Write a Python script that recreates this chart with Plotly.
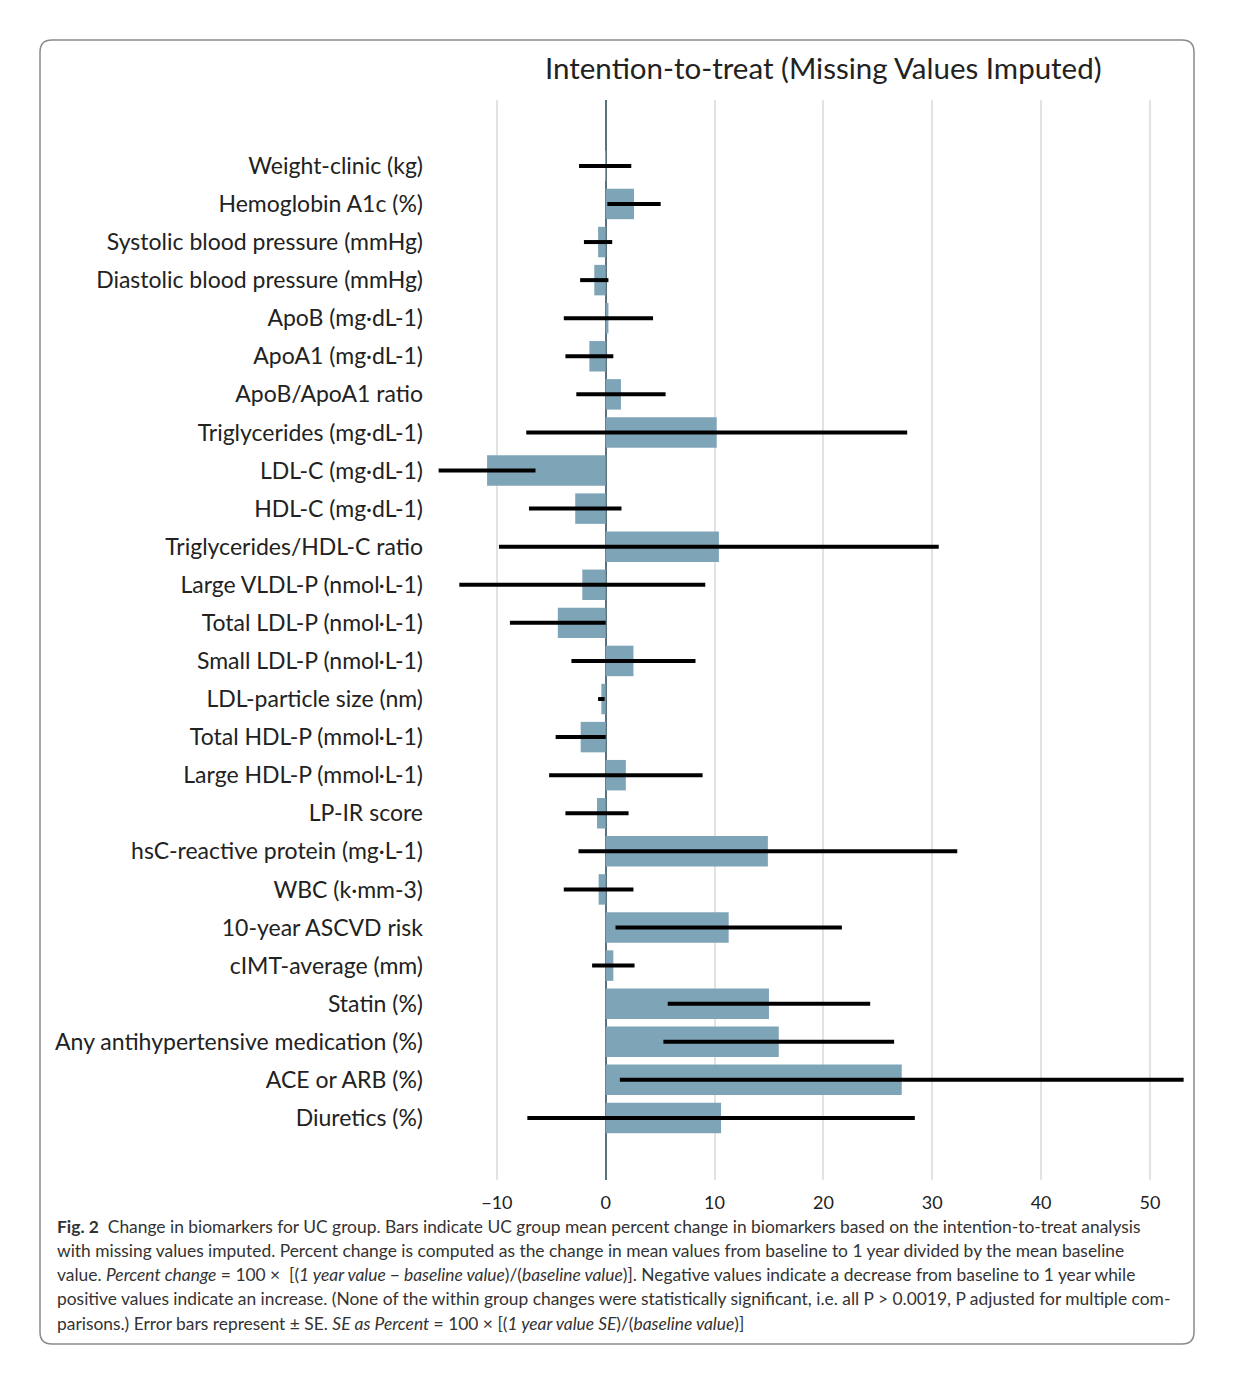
import plotly.graph_objects as go

categories = [
    "Weight-clinic (kg)", "Hemoglobin A1c (%)", "Systolic blood pressure (mmHg)",
    "Diastolic blood pressure (mmHg)", "ApoB (mg·dL-1)", "ApoA1 (mg·dL-1)",
    "ApoB/ApoA1 ratio", "Triglycerides (mg·dL-1)", "LDL-C (mg·dL-1)",
    "HDL-C (mg·dL-1)", "Triglycerides/HDL-C ratio", "Large VLDL-P (nmol·L-1)",
    "Total LDL-P (nmol·L-1)", "Small LDL-P (nmol·L-1)", "LDL-particle size (nm)",
    "Total HDL-P (mmol·L-1)", "Large HDL-P (mmol·L-1)", "LP-IR score",
    "hsC-reactive protein (mg·L-1)", "WBC (k·mm-3)", "10-year ASCVD risk",
    "cIMT-average (mm)", "Statin (%)", "Any antihypertensive medication (%)",
    "ACE or ARB (%)", "Diuretics (%)",
]
pct_change = [
    -0.05, 2.6, -0.7, -1.05, 0.25, -1.5,
    1.4, 10.2, -10.9,
    -2.8, 10.4, -2.15,
    -4.4, 2.55, -0.4,
    -2.3, 1.85, -0.8,
    14.9, -0.65, 11.3,
    0.7, 15.0, 15.9,
    27.2, 10.6,
]
se_pct = [
    2.4, 2.45, 1.3, 1.3, 4.1, 2.2,
    4.1, 17.5, 4.45,
    4.25, 20.2, 11.3,
    4.4, 5.7, 0.3,
    2.3, 7.05, 2.9,
    17.4, 3.2, 10.4,
    1.95, 9.3, 10.6,
    25.9, 17.8,
]
x_ticks = [-10, 0, 10, 20, 30, 40, 50]

W, H = 1242, 1379
L, R, T, B = 437, 1188, 100, 1180
pw, ph = R - L, B - T

def px_x(p):
    return (p - L) / pw

def px_y(p):
    return (B - p) / ph

fig = go.Figure()
fig.add_trace(go.Bar(
    y=categories, x=pct_change, orientation="h",
    marker=dict(color="#7ea5b7", line=dict(width=0)),
    width=0.8,
    error_x=dict(type="data", array=se_pct, visible=True, color="black",
                 thickness=4, width=0),
))

fig.update_layout(
    width=W, height=H,
    margin=dict(l=L, r=W - R, t=T, b=H - B, pad=0),
    plot_bgcolor="white", paper_bgcolor="white",
    showlegend=False,
    font=dict(family="Lato", color="#222222"),
    xaxis=dict(
        range=[-15.5, 53.5], tickvals=x_ticks,
        ticktext=["\u221210", "0", "10", "20", "30", "40", "50"],
        showgrid=True, gridcolor="#e2e2e2", gridwidth=2,
        zeroline=True, zerolinecolor="#5d717d", zerolinewidth=2,
        showline=False, tickfont=dict(size=18, family="Lato", color="#222"),
        ticks="", fixedrange=True, ticklabelstandoff=10,
    ),
    yaxis=dict(
        type="category", categoryorder="array", categoryarray=categories,
        range=[25 + 1.63, -1.73],
        showgrid=False, zeroline=False, showline=False,
        tickfont=dict(size=23, family="Lato", color="#222"),
        ticklabelstandoff=13, ticks="",
    ),
)

# Title
fig.add_annotation(text="Intention-to-treat (Missing Values Imputed)",
                   xref="paper", yref="paper", x=px_x(823), y=px_y(67),
                   xanchor="center", yanchor="middle", showarrow=False,
                   font=dict(size=29.5, family="Lato", color="#222"))

# Border with rounded corners
x0, x1, y0, y1, r = 40, 1194, 40, 1344, 12
path = (f"M {px_x(x0 + r)},{px_y(y0)} L {px_x(x1 - r)},{px_y(y0)} "
        f"Q {px_x(x1)},{px_y(y0)} {px_x(x1)},{px_y(y0 + r)} "
        f"L {px_x(x1)},{px_y(y1 - r)} Q {px_x(x1)},{px_y(y1)} {px_x(x1 - r)},{px_y(y1)} "
        f"L {px_x(x0 + r)},{px_y(y1)} Q {px_x(x0)},{px_y(y1)} {px_x(x0)},{px_y(y1 - r)} "
        f"L {px_x(x0)},{px_y(y0 + r)} Q {px_x(x0)},{px_y(y0)} {px_x(x0 + r)},{px_y(y0)} Z")
fig.add_shape(type="path", path=path, xref="paper", yref="paper",
              line=dict(color="#8a8a8a", width=1.5), fillcolor="rgba(0,0,0,0)")

caption = [
    "<b>Fig. 2</b>  Change in biomarkers for UC group. Bars indicate UC group mean percent change in biomarkers based on the intention-to-treat analysis",
    "with missing values imputed. Percent change is computed as the change in mean values from baseline to 1 year divided by the mean baseline",
    "value. <i>Percent change</i> = 100 \u00d7  [(<i>1 year value \u2212 baseline value</i>)/(<i>baseline value</i>)]. Negative values indicate a decrease from baseline to 1 year while",
    "positive values indicate an increase. (None of the within group changes were statistically significant, i.e. all P > 0.0019, P adjusted for multiple com-",
    "parisons.) Error bars represent \u00b1 SE. <i>SE as Percent</i> = 100 \u00d7 [(<i>1 year value SE</i>)/(<i>baseline value</i>)]",
]
for i, line in enumerate(caption):
    fig.add_annotation(text=line, xref="paper", yref="paper",
                       x=px_x(55), y=px_y(1226 + i * 24.3),
                       xanchor="left", yanchor="middle", showarrow=False,
                       align="left",
                       font=dict(size=17.4, family="Lato", color="#333"))

fig.write_html("out.html", config={"displayModeBar": False},
               post_script="document.body.style.margin='0';")
